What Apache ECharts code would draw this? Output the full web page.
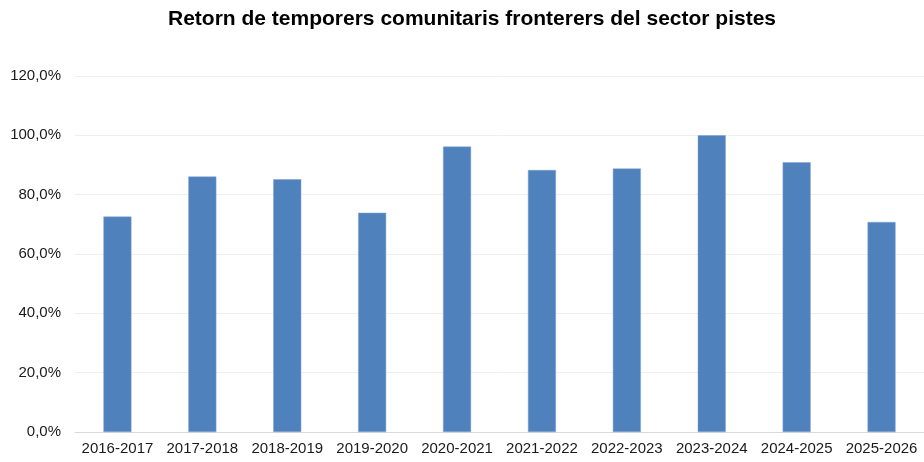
<!DOCTYPE html>
<html>
<head>
<meta charset="utf-8">
<script src="https://cdn.jsdelivr.net/npm/echarts@6/dist/echarts.min.js"></script>
<style>
  html, body { margin: 0; padding: 0; background: #fff; }
  #chart { width: 924px; height: 462px; }
</style>
</head>
<body>
<div id="chart"></div>
<script>
// temporades i percentatge de retorn (llegits del gràfic)
const seasons = ['2016-2017', '2017-2018', '2018-2019', '2019-2020', '2020-2021',
  '2021-2022', '2022-2023', '2023-2024', '2024-2025', '2025-2026'];
const returnPct = [72.6, 86.1, 85.2, 73.9, 96.2, 88.3, 88.8, 100.0, 90.9, 70.8];

const font = '"Liberation Sans", Arial, sans-serif';

const chart = echarts.init(document.getElementById('chart'));

chart.setOption({
  animation: false,
  title: {
    text: 'Retorn de temporers comunitaris fronterers del sector pistes',
    left: 163,
    top: 4,
    textStyle: { fontFamily: font, fontSize: 21, fontWeight: 'bold', color: '#000' },
  },
  grid: { left: 75, right: -1, top: 76, bottom: 30, containLabel: false },
  xAxis: {
    type: 'category',
    data: seasons,
    axisLine: { lineStyle: { color: '#D9D9D9', width: 1 } },
    axisTick: { show: false },
    axisLabel: { fontFamily: font, fontSize: 15, color: '#1a1a1a', margin: 9, interval: 0 },
  },
  yAxis: {
    type: 'value',
    min: 0,
    max: 120,
    interval: 20,
    axisLine: { show: false },
    axisTick: { show: false },
    splitLine: { lineStyle: { color: '#EFEFEF', width: 1 } },
    axisLabel: {
      fontFamily: font,
      fontSize: 15,
      color: '#1a1a1a',
      margin: 14,
      formatter: v => v.toFixed(1).replace('.', ',') + '%',
    },
  },
  series: [{
    type: 'bar',
    data: returnPct,
    barWidth: 28,
    itemStyle: { color: '#4F81BD', borderColor: '#7FA3D0', borderWidth: 0.5 },
  }],
});
</script>
</body>
</html>
